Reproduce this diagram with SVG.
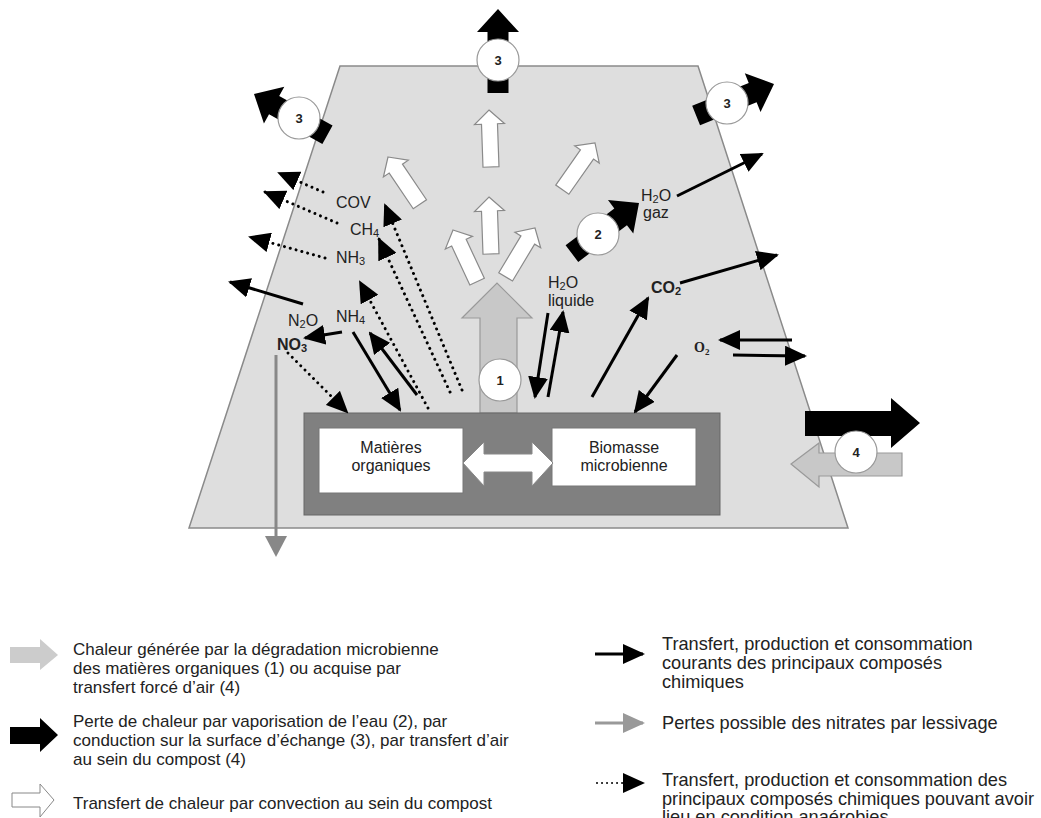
<svg xmlns="http://www.w3.org/2000/svg" width="1041" height="818" viewBox="0 0 1041 818">
<style>
text{font-family:"Liberation Sans",Arial,sans-serif;fill:#222}
.lbl{font-size:16px}
.leg{font-size:18.2px}
.legl{font-size:17px}
.num{font-size:13px;font-weight:bold;text-anchor:middle}
.circ{fill:#fff;stroke:#999;stroke-width:1.2}
.solid{stroke:#000;stroke-width:3;fill:none;marker-end:url(#hb)}
.dot{stroke:#000;stroke-width:3;fill:none;stroke-dasharray:0.01 6;stroke-linecap:round;marker-end:url(#hb)}
.wa{fill:#fff;stroke:#8a8a8a;stroke-width:1.2}
.ba{fill:#000}
.box{fill:#fff;stroke:#777;stroke-width:1}
</style>
<defs>
<marker id="hb" markerUnits="userSpaceOnUse" markerWidth="22" markerHeight="20" refX="20" refY="10" orient="auto"><path d="M0,0 L22,10 L0,20 Z" fill="#000"/></marker>
<marker id="hg" markerUnits="userSpaceOnUse" markerWidth="22" markerHeight="20" refX="20" refY="10" orient="auto"><path d="M0,0 L22,10 L0,20 Z" fill="#999"/></marker>
<path id="wa" d="M0,0 L15,14 L8,14 L8,57 L-8,57 L-8,14 L-15,14 Z"/>
<path id="ba" d="M0,0 L21,23 L10.5,23 L10.5,84 L-10.5,84 L-10.5,23 L-21,23 Z"/>
</defs>

<g id="compost">
<polygon points="340,66 698,66 848,528 189,528" fill="#dedede" stroke="#8a8a8a" stroke-width="1.5"/>
</g>

<g id="convection">
<use href="#wa" class="wa" transform="translate(489,110) rotate(-2)"/>
<use href="#wa" class="wa" transform="translate(489,197) rotate(-2)"/>
<use href="#wa" class="wa" transform="translate(453,230) rotate(-25)"/>
<use href="#wa" class="wa" transform="translate(535,228) rotate(31)"/>
<use href="#wa" class="wa" transform="translate(595,143) rotate(35)"/>
<use href="#wa" class="wa" transform="translate(388,157) rotate(-34)"/>
</g>

<g id="heat1">
<polygon points="480,413 480,318 462,318 497,283 532,318 517,318 517,413" fill="#c8c8c8" stroke="#999" stroke-width="1.2"/>
<circle class="circ" cx="500" cy="380" r="21"/>
<text class="num" x="500" y="385">1</text>
</g>

<g id="reactor">
<rect x="304" y="413" width="416" height="102" fill="#808080" stroke="#666" stroke-width="1"/>
</g>
<g id="matieres">
<rect class="box" x="319" y="428" width="144" height="65"/>
<text class="lbl" x="391" y="453" text-anchor="middle" fill="#333">Matières</text>
<text class="lbl" x="391" y="471" text-anchor="middle" fill="#333">organiques</text>
</g>
<g id="biomasse">
<rect class="box" x="552" y="428" width="144" height="58"/>
<text class="lbl" x="624" y="453" text-anchor="middle" fill="#333">Biomasse</text>
<text class="lbl" x="624" y="471" text-anchor="middle" fill="#333">microbienne</text>
</g>
<g id="exchange">
<polygon points="463,463 484,442 484,454 532,454 532,442 553,463 532,486 532,472 484,472 484,486" fill="#fff" stroke="#888" stroke-width="1"/>
</g>

<g id="connectors">
<line class="solid" x1="303" y1="304" x2="230" y2="282"/>
<line class="solid" x1="342" y1="332" x2="305" y2="338"/>
<line class="solid" x1="353" y1="332" x2="400" y2="410"/>
<line class="solid" x1="417" y1="395" x2="370" y2="333"/>
<line class="solid" x1="548" y1="313" x2="535" y2="397"/>
<line class="solid" x1="548" y1="397" x2="563" y2="312"/>
<line class="solid" x1="592" y1="397" x2="648" y2="298"/>
<line class="solid" x1="680" y1="283" x2="777" y2="255"/>
<line class="solid" x1="677" y1="196" x2="762" y2="154"/>
<line class="solid" x1="677" y1="355" x2="635" y2="412"/>
<line class="solid" x1="792" y1="340" x2="720" y2="340"/>
<line class="solid" x1="733" y1="355" x2="805" y2="356"/>
<line class="dot" x1="323" y1="192" x2="279" y2="173"/>
<line class="dot" x1="337" y1="223" x2="265" y2="192"/>
<line class="dot" x1="325" y1="258" x2="250" y2="237"/>
<line class="dot" x1="288" y1="353" x2="347" y2="412"/>
<line class="dot" x1="428" y1="408" x2="360" y2="282"/>
<line class="dot" x1="450" y1="392" x2="379" y2="239"/>
<line class="dot" x1="462" y1="390" x2="385" y2="205"/>
<line x1="276" y1="355" x2="276" y2="540" stroke="#888" stroke-width="3"/>
<polygon points="265,536 287,536 276,557" fill="#888"/>
</g>

<g id="labels">
<text class="lbl" x="336" y="208">COV</text>
<text class="lbl" x="350" y="235">CH<tspan font-size="11" dy="2">4</tspan></text>
<text class="lbl" x="336" y="263">NH<tspan font-size="11" dy="2">3</tspan></text>
<text class="lbl" x="336" y="322">NH<tspan font-size="11" dy="2">4</tspan></text>
<text class="lbl" x="288" y="326">N<tspan font-size="11" dy="2">2</tspan><tspan dy="-2">O</tspan></text>
<text class="lbl" x="277" y="350" font-weight="bold">NO<tspan font-size="11" dy="2">3</tspan></text>
<text class="lbl" x="548" y="288">H<tspan font-size="11" dy="2">2</tspan><tspan dy="-2">O</tspan></text>
<text class="lbl" x="548" y="306">liquide</text>
<text class="lbl" x="641" y="201">H<tspan font-size="11" dy="2">2</tspan><tspan dy="-2">O</tspan></text>
<text class="lbl" x="643" y="218">gaz</text>
<text class="lbl" x="651" y="293" font-weight="bold">CO<tspan font-size="11" dy="2">2</tspan></text>
<text x="694" y="352" style="font-family:'Liberation Serif','Times New Roman',serif;font-size:14px;font-weight:bold">O<tspan font-size="9" dy="3">2</tspan></text>
</g>

<g id="cond-top">
<use href="#ba" class="ba" transform="translate(498,9)"/>
<circle class="circ" cx="498" cy="60" r="21"/>
<text class="num" x="498" y="65">3</text>
</g>
<g id="cond-left">
<use href="#ba" class="ba" transform="translate(254,94) rotate(-61)"/>
<circle class="circ" cx="299" cy="118" r="21"/>
<text class="num" x="299" y="123">3</text>
</g>
<g id="cond-right">
<use href="#ba" class="ba" transform="translate(774,84) rotate(68)"/>
<circle class="circ" cx="727" cy="103" r="21"/>
<text class="num" x="727" y="108">3</text>
</g>
<g id="vapor">
<use href="#ba" class="ba" transform="translate(639,203) rotate(53)"/>
<circle class="circ" cx="598" cy="234" r="21"/>
<text class="num" x="598" y="239">2</text>
</g>
<g id="air4">
<polygon points="805,411 891,411 891,398 920,423 891,448 891,436 805,436" fill="#000"/>
<polygon points="902,453 819,453 819,443 791,464 819,487 819,476 902,476" fill="#c8c8c8" stroke="#999" stroke-width="1.2"/>
<circle class="circ" cx="856" cy="452" r="21"/>
<text class="num" x="856" y="457">4</text>
</g>

<g id="legend">
<polygon points="10,647 40,647 40,639 58,655 40,670 40,663 10,663" fill="#cccccc"/>
<text class="legl" x="73" y="655">Chaleur générée par la dégradation microbienne</text>
<text class="legl" x="73" y="674">des matières organiques (1) ou acquise par</text>
<text class="legl" x="73" y="693">transfert forcé d’air (4)</text>
<polygon points="10,727 40,727 40,718 58,735 40,752 40,744 10,744" fill="#000"/>
<text class="legl" x="73" y="727">Perte de chaleur par vaporisation de l’eau (2), par</text>
<text class="legl" x="73" y="746">conduction sur la surface d’échange (3), par transfert d’air</text>
<text class="legl" x="73" y="765">au sein du compost (4)</text>
<polygon points="12,793 40,793 40,784 54,800 40,817 40,807 12,807" fill="#fff" stroke="#888" stroke-width="1"/>
<text class="legl" x="73" y="809">Transfert de chaleur par convection au sein du compost</text>

<line x1="595" y1="654" x2="643" y2="654" stroke="#000" stroke-width="3" marker-end="url(#hb)"/>
<text class="leg" x="662" y="650">Transfert, production et consommation</text>
<text class="leg" x="662" y="669">courants des principaux composés</text>
<text class="leg" x="662" y="688">chimiques</text>
<line x1="595" y1="723" x2="643" y2="723" stroke="#999" stroke-width="3" marker-end="url(#hg)"/>
<text class="leg" x="662" y="729">Pertes possible des nitrates par lessivage</text>
<line x1="597" y1="783" x2="643" y2="783" stroke="#000" stroke-width="2" stroke-dasharray="0.01 5" stroke-linecap="round" marker-end="url(#hb)"/>
<text class="leg" x="662" y="786">Transfert, production et consommation des</text>
<text class="leg" x="662" y="805">principaux composés chimiques pouvant avoir</text>
<text class="leg" x="662" y="823">lieu en condition anaérobies</text>
</g>
</svg>
